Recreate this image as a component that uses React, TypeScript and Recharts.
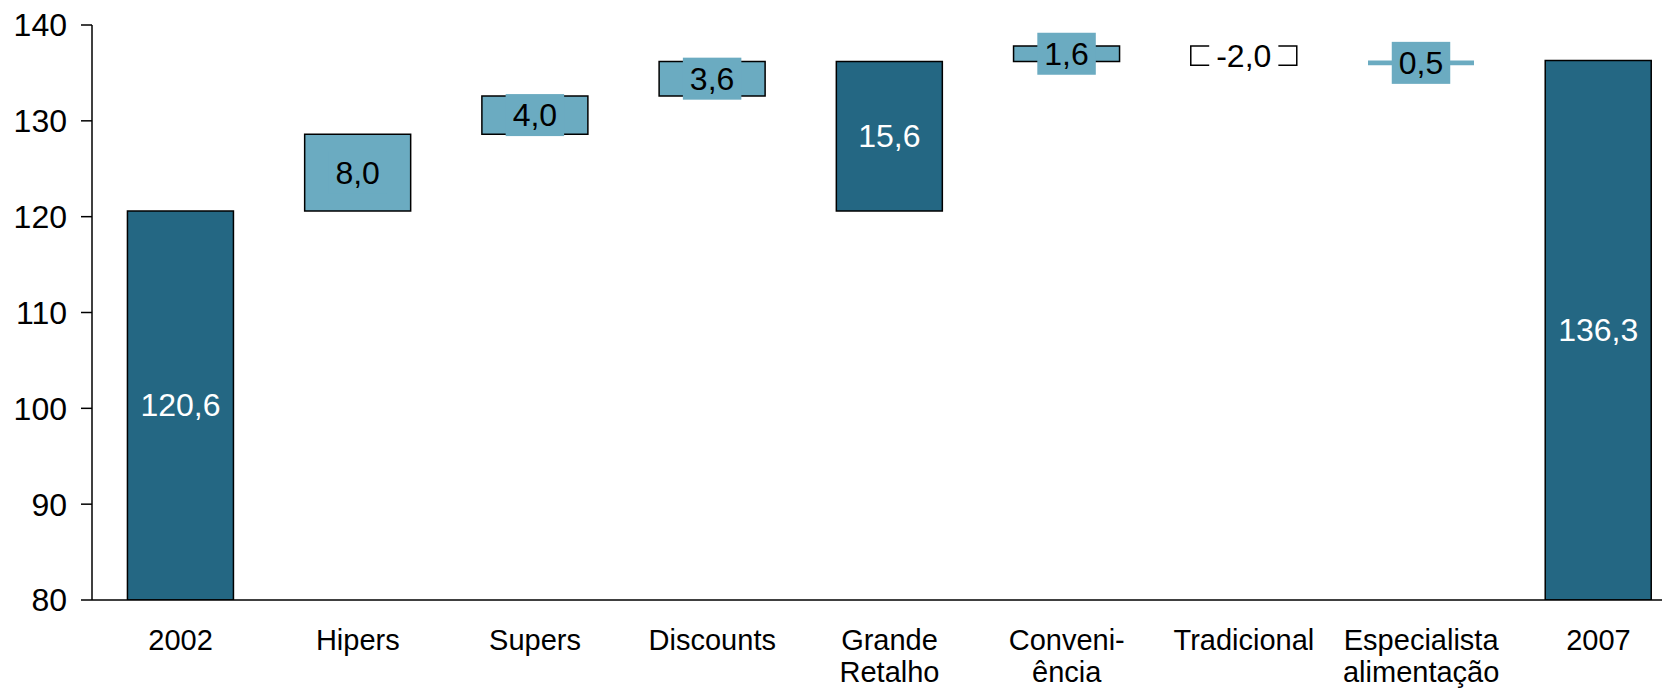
import React from 'react';
import { BarChart, Bar, XAxis, YAxis, Cell, LabelList } from 'recharts';

// Categories, split into the lines shown under the axis
const categories = ['2002', 'Hipers', 'Supers', 'Discounts', 'Grande Retalho', 'Conveniência', 'Tradicional', 'Especialista alimentação', '2007'];
const categoryLines = [['2002'], ['Hipers'], ['Supers'], ['Discounts'], ['Grande', 'Retalho'], ['Conveni-', 'ência'], ['Tradicional'], ['Especialista', 'alimentação'], ['2007']];

// Value of each step; totals are absolute, the rest are changes
const values = [120.6, 8.0, 4.0, 3.6, 15.6, 1.6, -2.0, 0.5, 136.3];
const kinds = ['total', 'delta', 'delta', 'delta', 'subtotal', 'delta', 'delta', 'delta', 'total'];

const yTicks = [80, 90, 100, 110, 120, 130, 140];
const Y_MIN = 80;
const Y_MAX = 140;

const DARK = '#246783';
const LIGHT = '#6BABC1';
const FONT = '"Liberation Sans", Arial, Helvetica, sans-serif';

const fmt = (v: number) => v.toFixed(1).replace('.', ',');

// Build floating ranges for the waterfall
const data = (() => {
  let running = 0;
  return categories.map((name, i) => {
    const v = values[i];
    const kind = kinds[i];
    let low: number;
    let high: number;
    if (kind === 'total') {
      low = Y_MIN;
      high = v;
      running = v;
    } else if (kind === 'subtotal') {
      low = running - v;
      high = running;
    } else {
      const next = running + v;
      low = Math.min(running, next);
      high = Math.max(running, next);
      running = next;
    }
    let fill = LIGHT;
    let stroke = '#000';
    if (kind !== 'delta') fill = DARK;
    else if (v < 0) fill = '#ffffff';
    if (kind === 'delta' && Math.abs(v) < 1) stroke = 'none';
    return { name, lines: categoryLines[i], range: [low, high], label: fmt(v), kind, fill, stroke };
  });
})();

const charWidth = (c: string) => {
  if (c === ',' || c === '.') return 0.278;
  if (c === '-') return 0.333;
  return 0.556;
};

const LABEL_SIZE = 32;

const ValueLabel = (props: any) => {
  const vb = props.viewBox || props;
  const x = Number(vb.x);
  const y = Number(vb.y);
  const w = Number(vb.width);
  const h = Number(vb.height);
  const entry = data.find((d) => d.label === props.value);
  if (!entry) return null;
  const cx = x + w / 2;
  const cy = y + h / 2;
  const dark = entry.kind !== 'delta';
  const tw = entry.label.split('').reduce((s, c) => s + charWidth(c), 0) * LABEL_SIZE;
  const bw = tw + 14;
  const bh = 42;
  return (
    <g>
      {!dark && (
        <rect x={cx - bw / 2} y={cy - bh / 2} width={bw} height={bh} fill={entry.fill} />
      )}
      <text
        x={cx}
        y={cy}
        textAnchor="middle"
        dominantBaseline="central"
        fontFamily={FONT}
        fontSize={LABEL_SIZE}
        fill={dark ? '#ffffff' : '#000000'}
      >
        {entry.label}
      </text>
    </g>
  );
};

const CategoryTick = (props: any) => {
  const { x, y, payload } = props;
  const entry = data.find((d) => d.name === payload.value);
  const lines = entry ? entry.lines : [String(payload.value)];
  return (
    <g>
      {lines.map((line: string, i: number) => (
        <text
          key={i}
          x={x}
          y={y + 50 + i * 32}
          textAnchor="middle"
          fontFamily={FONT}
          fontSize={29}
          fill="#000"
        >
          {line}
        </text>
      ))}
    </g>
  );
};

export default function App() {
  return (
    <div
      style={{
        margin: '-8px 0 0 -8px',
        width: 1670,
        height: 689,
        overflow: 'hidden',
        background: '#ffffff',
      }}
    >
      <BarChart
        width={1687}
        height={689}
        data={data}
        margin={{ top: 25, right: 0, bottom: 0, left: 0 }}
        barCategoryGap="20%"
      >
        <XAxis
          dataKey="name"
          height={89}
          interval={0}
          tickLine={false}
          tickSize={0}
          tickMargin={0}
          axisLine={{ stroke: '#000', strokeWidth: 1.5 }}
          tick={<CategoryTick />}
        />
        <YAxis
          width={92}
          domain={[Y_MIN, Y_MAX]}
          ticks={yTicks}
          allowDataOverflow
          interval={0}
          tickSize={11}
          tickMargin={14}
          axisLine={{ stroke: '#000', strokeWidth: 1.5 }}
          tickLine={{ stroke: '#000', strokeWidth: 1.5 }}
          tick={{ fill: '#000', fontSize: 32, fontFamily: FONT }}
        />
        <Bar dataKey="range" isAnimationActive={false}>
          {data.map((d, i) => (
            <Cell key={i} fill={d.fill} stroke={d.stroke} strokeWidth={1.5} />
          ))}
          <LabelList dataKey="label" content={<ValueLabel />} />
        </Bar>
      </BarChart>
    </div>
  );
}
